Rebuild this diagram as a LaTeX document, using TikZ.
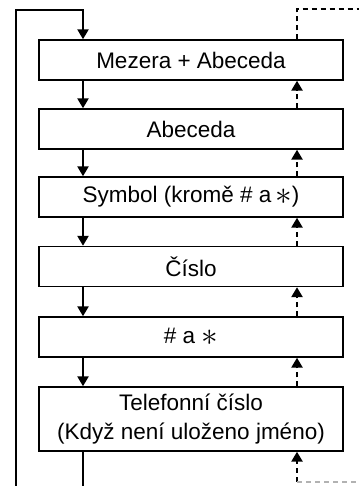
\documentclass[tikz,border=0pt]{standalone}
\usepackage{fontspec}
\setmainfont{Liberation Sans}
\usetikzlibrary{arrows.meta, positioning, calc}
\newcommand{\bigast}{\raisebox{-2pt}{\scalebox{1.6}{$\ast$}}}

\begin{document}
\begin{tikzpicture}[
  x=1pt, y=1pt,
  box/.style={draw, line width=1.4pt, minimum width=304pt, minimum height=40pt,
              align=center, font=\fontsize{22.5}{29}\selectfont, inner sep=0pt},
  arr/.style={-{Triangle[width=11pt, length=10pt]}, line width=2.4pt},
  darr/.style={-{Triangle[width=11pt, length=10pt]}, line width=2.4pt, dash pattern=on 5pt off 4pt},
  dline/.style={line width=2.4pt, dash pattern=on 5pt off 4pt}
]
  \useasboundingbox (0,0) rectangle (359,486);
  \coordinate (dn) at (83,0);
  \coordinate (up) at (297,0);

  \node[box] (mez) at (191,426) {Mezera + Abeceda};
  \node[box] (abc) at (191,357) {Abeceda};
  \node[box] (sym) at (191,289) {Symbol (kromě \# a\,\bigast)};
  \node[box] (cis) at (191,219.5) {Číslo};
  \node[box] (hvz) at (191,149) {\# a \bigast};
  \node[box, minimum height=64pt] (tel) at (191,67) {Telefonní číslo\\(Když není uloženo jméno)};

  % loop back to the top
  \coordinate (lbot) at (16,0);
  \coordinate (ltop) at (83,476);
  \draw[arr] (lbot) |- (ltop) -- (mez.north -| dn);
  \coordinate (tbot) at (83,0);
  \draw[line width=2.4pt] (tel.south -| dn) -- (tbot);

  % forward steps
  \draw[arr] (mez.south -| dn) -- (abc.north -| dn);
  \draw[arr] (abc.south -| dn) -- (sym.north -| dn);
  \draw[arr] (sym.south -| dn) -- (cis.north -| dn);
  \draw[arr] (cis.south -| dn) -- (hvz.north -| dn);
  \draw[arr] (hvz.south -| dn) -- (tel.north -| dn);

  % backward steps
  \draw[darr] (abc.north -| up) -- (mez.south -| up);
  \draw[darr] (sym.north -| up) -- (abc.south -| up);
  \draw[darr] (cis.north -| up) -- (sym.south -| up);
  \draw[darr] (hvz.north -| up) -- (cis.south -| up);
  \draw[darr] (tel.north -| up) -- (hvz.south -| up);

  \coordinate (rtop) at (359,477);
  \draw[dline] (mez.north -| up) |- (rtop);
  \coordinate (rbot) at (359,4);
  \draw[darr] (rbot -| up) -- (tel.south -| up);
  \draw[dline, gray!60] (rbot -| up) -- (rbot);
\end{tikzpicture}
\end{document}
